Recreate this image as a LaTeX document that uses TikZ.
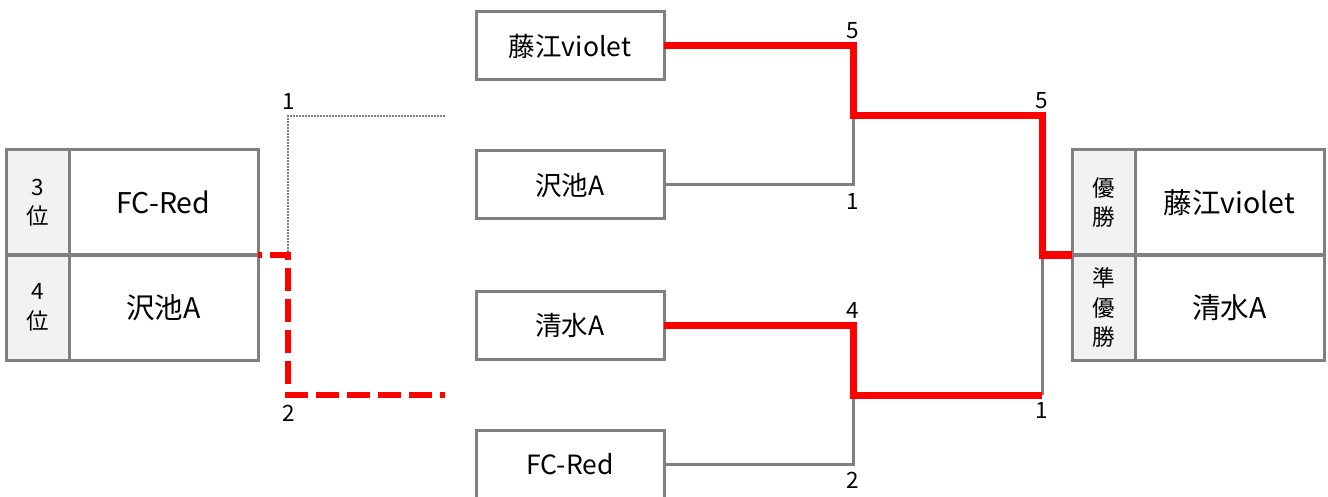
\documentclass[tikz,border=0pt]{standalone}
\usepackage{fontspec}
\setmainfont{Noto Sans CJK JP}
\definecolor{bordergray}{HTML}{808080}
\definecolor{labfill}{HTML}{F2F2F2}
\definecolor{winred}{HTML}{FF0000}
\tikzset{
  cell/.style={draw=bordergray, line width=3pt, rectangle, inner sep=0pt, outer sep=0pt, anchor=north west},
  labcell/.style={cell, fill=labfill, minimum width=63pt, minimum height=105pt, align=center, font=\fontsize{22.5}{29.5}\selectfont},
  namecell/.style={cell, fill=white, minimum width=189pt, minimum height=105pt, font=\fontsize{28.5}{30}\selectfont},
  teambox/.style={cell, fill=white, minimum width=188pt, minimum height=68pt, font=\fontsize{26.5}{28}\selectfont},
  winline/.style={draw=winred, line width=7pt, line join=miter},
  loseline/.style={draw=bordergray, line width=3pt},
  dashline/.style={draw=winred, line width=5.5pt, dash pattern=on 23pt off 8pt, dash phase=19pt},
  dotline/.style={draw=bordergray, line width=2.2pt, dash pattern=on 2pt off 1pt},
  score/.style={inner sep=0pt, font=\fontsize{22.5}{24}\selectfont}
}
\begin{document}
\begin{tikzpicture}[x=1pt, y=-1pt]
\clip (0,0) rectangle (1328,497);
\fill[white] (0,0) rectangle (1328,497);

% coordinates
\coordinate (q1) at (288,116);
\coordinate (q1e) at (445,116);
\coordinate (q2) at (288,395);
\coordinate (q2e) at (445,395);
\coordinate (s1) at (853,116);
\coordinate (s2) at (853,395);
\coordinate (fin) at (1042,255);
\coordinate (f2) at (1042,395);

% team boxes (centre)
\node[teambox] (b1) at (476,12) {藤江violet};
\node[teambox] (b2) at (476,151) {沢池A};
\node[teambox] (b3) at (476,291) {清水A};
\node[teambox] (b4) at (476,430) {FC-Red};

% left result table
\node[labcell] (l3lab) at (6,150) {3\\位};
\node[namecell] (l3name) at (69,150) {FC-Red};
\node[labcell] (l4lab) at (6,255) {4\\位};
\node[namecell] (l4name) at (69,255) {沢池A};

% right result table
\node[labcell] (r1lab) at (1072,150) {優\\勝};
\node[namecell] (r1name) at (1135,150) {藤江violet};
\node[labcell] (r2lab) at (1072,255) {準\\優\\勝};
\node[namecell] (r2name) at (1135,255) {清水A};

% third place match
\draw[dotline] (q1e) -- (q1) -- (q1 |- l3name.south east);
\draw[dashline] (l3name.south east) -| (q2) -- (q2e);

% losers' lines
\draw[loseline] (b2.east) -| (s1);
\draw[loseline] (b4.east) -| (s2);
\draw[loseline] (f2) -- (fin);

% winners' lines
\draw[winline] (b1.east) -| (s1) -| (fin) -- (r1lab.south west);
\draw[winline] (b3.east) -| (s2) -- (f2);

% scores
\node[score] (sc1) at (289,101) {1};
\node[score] (sc2) at (289,413) {2};
\node[score] (sc3) at (853,31) {5};
\node[score] (sc4) at (853,201) {1};
\node[score] (sc5) at (853,310) {4};
\node[score] (sc6) at (853,480) {2};
\node[score] (sc7) at (1042,101) {5};
\node[score] (sc8) at (1042,410) {1};
\end{tikzpicture}
\end{document}
